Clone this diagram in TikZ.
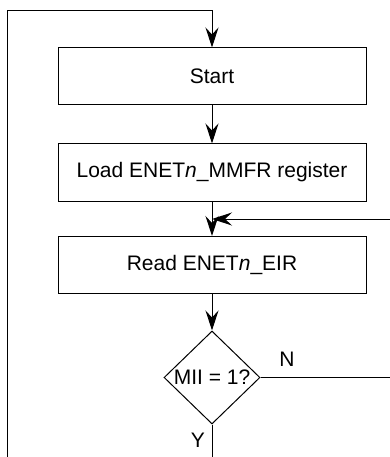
\documentclass[tikz,border=0pt]{standalone}
\usepackage{fontspec}
\setmainfont{Liberation Sans}
\usetikzlibrary{shapes.geometric,arrows.meta}
\begin{document}
\begin{tikzpicture}[x=1pt,y=-1pt,
  every node/.style={font=\fontsize{21}{25}\selectfont},
  line/.style={line width=1pt},
  arr/.style={line width=1pt,-{Stealth[length=20pt,width=13pt,inset=7pt]}},
  procbox/.style={draw,line width=1pt,minimum width=308pt,minimum height=57pt,inner sep=0pt},
  decision/.style={draw,line width=1pt,shape=diamond,minimum width=96pt,minimum height=93pt,inner sep=0pt}]
\useasboundingbox (0,0) rectangle (390,457);
\node[procbox] (start) at (212,76.5) {Start};
\node[procbox] (load) at (212,172.5) {Load ENET\textit{n}\_MMFR register};
\node[procbox] (read) at (212,265) {Read ENET\textit{n}\_EIR};
\node[decision] (dec) at (212,377.5) {\makebox[0pt]{MII = 1?}};
\node (n) at (287,359) {N};
\node (y) at (198,440) {Y};
\coordinate (bot) at (212,457);
\coordinate (lbot) at (7,457);
\coordinate (ltop) at (7,11);
\coordinate (ttop) at (212,11);
\coordinate (rin) at (390,219);
\coordinate (join) at (212,219);
\coordinate (nout) at (390,377.5);
\draw[arr] (lbot) -- (ltop) -- (ttop) -- (start.north);
\draw[arr] (start.south) -- (load.north);
\draw[arr] (load.south) -- (read.north);
\draw[arr] (rin) -- (join);
\draw[arr] (read.south) -- (dec.north);
\draw[line] (dec.east) -- (nout);
\draw[line] (dec.south) -- (bot);
\end{tikzpicture}
\end{document}
